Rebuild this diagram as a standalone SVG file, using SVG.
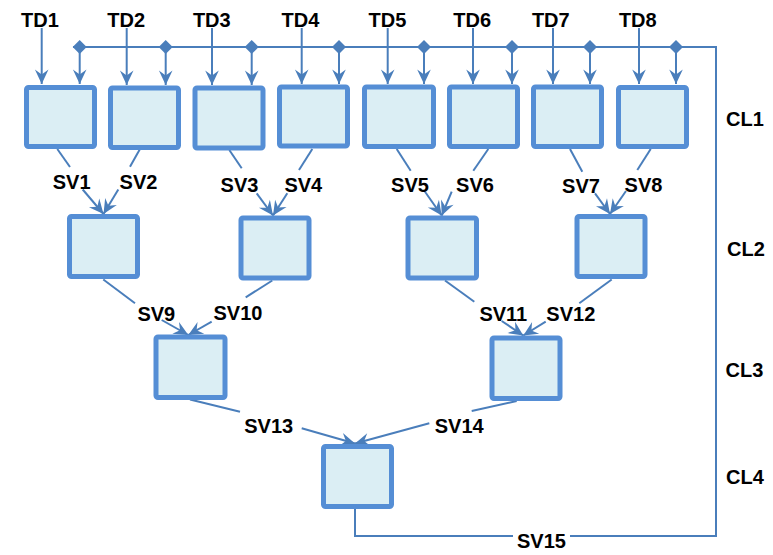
<svg xmlns="http://www.w3.org/2000/svg" width="773" height="555" viewBox="0 0 773 555">
  <style>
    .node { fill: #dbeef4; stroke: #558ed5; stroke-width: 5; }
    .edge { fill: none; stroke: #4a7ebb; stroke-width: 2; }
    .arr { marker-end: url(#arrow); }
    .br { marker-start: url(#diamond); marker-end: url(#arrow); }
    text { font-family: "Liberation Sans", Arial, sans-serif; font-weight: bold; font-size: 20px; fill: #000; text-anchor: middle; }
  </style>
  <defs>
    <marker id="arrow" markerUnits="userSpaceOnUse" viewBox="-16 -8 18 16" refX="0" refY="0" markerWidth="18" markerHeight="16" orient="auto">
      <path d="M0,0 L-14.5,-6.8 L-9.5,0 L-14.5,6.8 Z" fill="#4a7ebb"/>
    </marker>
    <marker id="diamond" markerUnits="userSpaceOnUse" viewBox="-8 -8 16 16" refX="0" refY="0" markerWidth="16" markerHeight="16" orient="0">
      <path d="M0,-7 L7,0 L0,7 L-7,0 Z" fill="#4a7ebb"/>
    </marker>
  </defs>

  <!-- connectors -->
  <g id="connectors">
    <!-- shared feedback bus -->
    <polyline class="edge" points="355,509 355,536 716,536 716,47 73,47"/>
    <!-- TD inputs -->
    <line class="edge arr" x1="41.7" y1="28" x2="41.7" y2="84"/>
    <line class="edge arr" x1="126.7" y1="28" x2="126.7" y2="85"/>
    <line class="edge arr" x1="212" y1="28" x2="212" y2="85"/>
    <line class="edge arr" x1="301.7" y1="28" x2="301.7" y2="84"/>
    <line class="edge arr" x1="387.7" y1="28" x2="387.7" y2="84"/>
    <line class="edge arr" x1="473" y1="28" x2="473" y2="84"/>
    <line class="edge arr" x1="553" y1="28" x2="553" y2="84"/>
    <line class="edge arr" x1="639" y1="28" x2="639" y2="84"/>
    <!-- bus branches -->
    <line class="edge br" x1="79.7" y1="47" x2="79.7" y2="84"/>
    <line class="edge br" x1="165.7" y1="47" x2="165.7" y2="85"/>
    <line class="edge br" x1="251.7" y1="47" x2="251.7" y2="85"/>
    <line class="edge br" x1="339" y1="47" x2="339" y2="84"/>
    <line class="edge br" x1="424" y1="47" x2="424" y2="84"/>
    <line class="edge br" x1="512" y1="47" x2="512" y2="84"/>
    <line class="edge br" x1="590" y1="47" x2="590" y2="84"/>
    <line class="edge br" x1="676" y1="47" x2="676" y2="84"/>
    <!-- level 1 to level 2 -->
    <line class="edge" x1="57.3" y1="149" x2="70" y2="167"/>
    <line class="edge arr" x1="82.7" y1="189.5" x2="103.5" y2="214"/>
    <line class="edge" x1="140" y1="149" x2="130" y2="166.7"/>
    <line class="edge arr" x1="118.3" y1="189.5" x2="103.5" y2="214"/>
    <line class="edge" x1="229.3" y1="150" x2="241.7" y2="168.3"/>
    <line class="edge arr" x1="256.7" y1="193.3" x2="273" y2="215.5"/>
    <line class="edge" x1="312.3" y1="149" x2="299" y2="170"/>
    <line class="edge arr" x1="287.3" y1="193.3" x2="273" y2="215.5"/>
    <line class="edge" x1="396.7" y1="149" x2="410.7" y2="170.7"/>
    <line class="edge arr" x1="425" y1="191.7" x2="441.7" y2="215.5"/>
    <line class="edge" x1="488.3" y1="149" x2="473.3" y2="170.7"/>
    <line class="edge arr" x1="451.7" y1="191.7" x2="441.7" y2="215.5"/>
    <line class="edge" x1="570" y1="149" x2="582.3" y2="171.7"/>
    <line class="edge arr" x1="595" y1="193.3" x2="610" y2="214"/>
    <line class="edge" x1="650.7" y1="149" x2="637.3" y2="170"/>
    <line class="edge arr" x1="626" y1="191" x2="610" y2="214"/>
    <!-- level 2 to level 3 -->
    <line class="edge" x1="103.3" y1="279.5" x2="135" y2="303.3"/>
    <line class="edge arr" x1="161.7" y1="320" x2="188.3" y2="335"/>
    <line class="edge" x1="272.3" y1="280.5" x2="245.7" y2="297.3"/>
    <line class="edge arr" x1="211.7" y1="321.7" x2="188.3" y2="335"/>
    <line class="edge" x1="445" y1="280.5" x2="474.3" y2="301.7"/>
    <line class="edge arr" x1="501.7" y1="321" x2="523.3" y2="335.5"/>
    <line class="edge" x1="611.7" y1="279.5" x2="579.3" y2="303.3"/>
    <line class="edge arr" x1="545.7" y1="321.7" x2="523.3" y2="335.5"/>
    <!-- level 3 to level 4 -->
    <line class="edge" x1="190" y1="399.5" x2="240" y2="411.7"/>
    <line class="edge arr" x1="301.7" y1="428.3" x2="355" y2="443.5"/>
    <line class="edge" x1="516.7" y1="401" x2="471.7" y2="411"/>
    <line class="edge arr" x1="429.3" y1="423.3" x2="355" y2="443.5"/>
  </g>

  <!-- level 1 -->
  <g id="n1"><rect class="node" x="26.5" y="87.5" width="68" height="59" rx="2"/></g>
  <g id="n2"><rect class="node" x="110.5" y="88" width="68" height="59.5" rx="2"/></g>
  <g id="n3"><rect class="node" x="195" y="88" width="68" height="60" rx="2"/></g>
  <g id="n4"><rect class="node" x="279.5" y="87" width="68" height="59" rx="2"/></g>
  <g id="n5"><rect class="node" x="364.5" y="87" width="69" height="59.5" rx="2"/></g>
  <g id="n6"><rect class="node" x="449.5" y="87" width="68" height="59.5" rx="2"/></g>
  <g id="n7"><rect class="node" x="533.5" y="87" width="68" height="59.5" rx="2"/></g>
  <g id="n8"><rect class="node" x="618.5" y="87.5" width="68" height="59" rx="2"/></g>
  <!-- level 2 -->
  <g id="n9"><rect class="node" x="69.5" y="216.5" width="68" height="60" rx="2"/></g>
  <g id="n10"><rect class="node" x="241" y="218" width="68" height="60" rx="2"/></g>
  <g id="n11"><rect class="node" x="408" y="218" width="68.5" height="60" rx="2"/></g>
  <g id="n12"><rect class="node" x="577" y="216.5" width="68" height="60" rx="2"/></g>
  <!-- level 3 -->
  <g id="n13"><rect class="node" x="156" y="337" width="69" height="60.5" rx="2"/></g>
  <g id="n14"><rect class="node" x="492" y="338" width="68" height="60.5" rx="2"/></g>
  <!-- level 4 -->
  <g id="n15"><rect class="node" x="323.5" y="446.5" width="68" height="60" rx="2"/></g>

  <!-- input labels -->
  <g id="inputs">
    <text x="40" y="27">TD1</text>
    <text x="126.2" y="27">TD2</text>
    <text x="211.8" y="27">TD3</text>
    <text x="300.5" y="27">TD4</text>
    <text x="387.5" y="27">TD5</text>
    <text x="472.2" y="27">TD6</text>
    <text x="550.8" y="27">TD7</text>
    <text x="637.8" y="27">TD8</text>
  </g>
  <!-- edge labels -->
  <g id="edge-labels">
    <text x="71.7" y="189">SV1</text>
    <text x="138.5" y="188.5">SV2</text>
    <text x="239.5" y="192">SV3</text>
    <text x="303.3" y="192">SV4</text>
    <text x="410" y="192">SV5</text>
    <text x="475" y="192">SV6</text>
    <text x="581" y="193">SV7</text>
    <text x="643.5" y="192">SV8</text>
    <text x="156.3" y="320.5">SV9</text>
    <text x="238" y="319.5">SV10</text>
    <text x="503.3" y="321">SV11</text>
    <text x="570.8" y="321">SV12</text>
    <text x="268.7" y="432.7">SV13</text>
    <text x="459.2" y="433">SV14</text>
    <rect x="513" y="528" width="57" height="18" fill="#fff"/>
    <text x="541.5" y="548">SV15</text>
  </g>
  <!-- level labels -->
  <g id="levels">
    <text x="745" y="126">CL1</text>
    <text x="746" y="256">CL2</text>
    <text x="744.5" y="377">CL3</text>
    <text x="745" y="484">CL4</text>
  </g>
</svg>
